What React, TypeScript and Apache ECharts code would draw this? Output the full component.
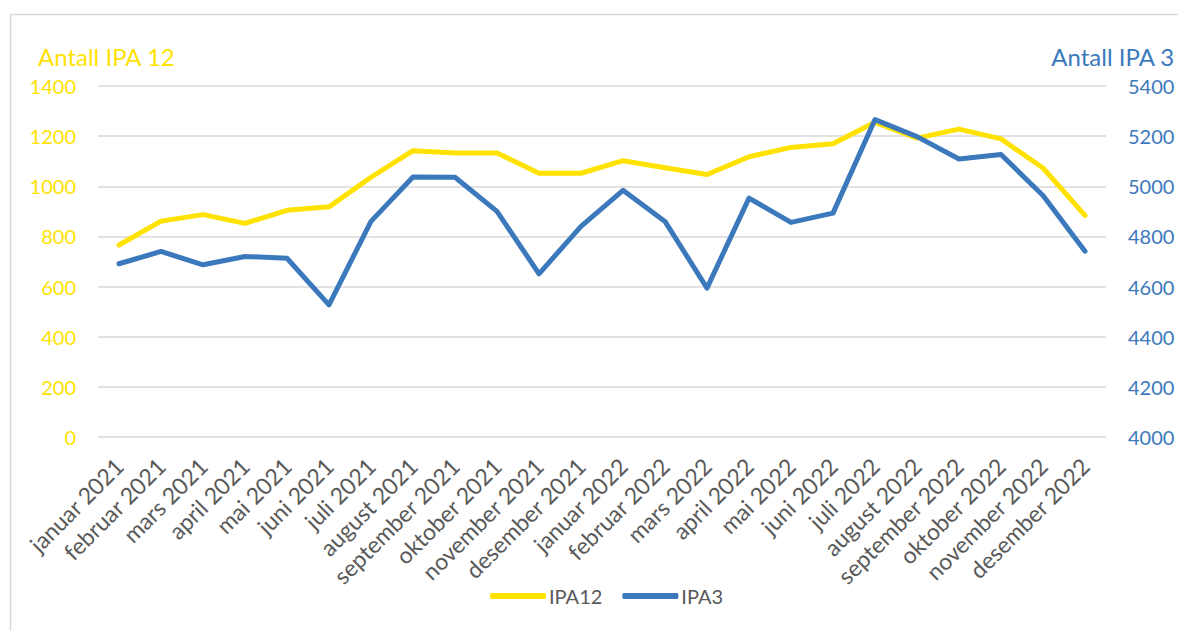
import React, { useEffect, useRef } from "react";
import * as echarts from "echarts";

const months = [
  "januar 2021", "februar 2021", "mars 2021", "april 2021", "mai 2021", "juni 2021",
  "juli 2021", "august 2021", "september 2021", "oktober 2021", "november 2021", "desember 2021",
  "januar 2022", "februar 2022", "mars 2022", "april 2022", "mai 2022", "juni 2022",
  "juli 2022", "august 2022", "september 2022", "oktober 2022", "november 2022", "desember 2022",
];

const ipa12 = [
  766, 861, 887, 852, 904, 918, 1036, 1142, 1133, 1133, 1052, 1052,
  1102, 1074, 1047, 1118, 1155, 1170, 1255, 1192, 1228, 1189, 1073, 884,
];

const ipa3 = [
  4691, 4740, 4687, 4720, 4713, 4527, 4860, 5037, 5036, 4900, 4651, 4840,
  4984, 4860, 4594, 4953, 4856, 4893, 5266, 5198, 5109, 5127, 4963, 4741,
];

const YELLOW = "#FFE200";
const BLUE = "#3B79BC";
const GREY = "#595959";
const FONT = "Lato, 'Open Sans', sans-serif";

export default function App() {
  const ref = useRef<HTMLDivElement>(null);
  useEffect(() => {
    if (!ref.current) return;
    const chart = echarts.init(ref.current, null, { renderer: "svg" });
    chart.setOption({
      animation: false,
      backgroundColor: "#fff",
      textStyle: { fontFamily: FONT },
      grid: { left: 98, right: 72, top: 86, bottom: 194, containLabel: false },
      graphic: [
        {
          type: "rect",
          shape: { x: 10.5, y: 14.5, width: 1300, height: 800 },
          style: { fill: "none", stroke: "#D9D9D9", lineWidth: 1.5 },
          silent: true,
        },
        {
          type: "text",
          left: 38,
          top: 44,
          style: { text: "Antall IPA 12", fill: YELLOW, font: `24px ${FONT}` },
        },
        {
          type: "text",
          right: 3,
          top: 44,
          style: { text: "Antall IPA 3", fill: BLUE, font: `24px ${FONT}` },
        },
      ],
      legend: {
        bottom: 20,
        left: 485,
        itemWidth: 56,
        itemHeight: 6,
        itemGap: 20,
        icon: "roundRect",
        textStyle: { color: GREY, fontSize: 20, fontFamily: FONT, padding: [0, 0, 0, -2] },
        data: ["IPA12", "IPA3"],
      },
      xAxis: {
        type: "category",
        data: months,
        boundaryGap: true,
        axisLine: { show: false },
        axisTick: { show: false },
        axisLabel: { rotate: 45, color: GREY, fontSize: 23, margin: 25, interval: 0, fontFamily: FONT },
      },
      yAxis: [
        {
          type: "value",
          min: 0,
          max: 1400,
          interval: 200,
          position: "left",
          axisLine: { show: false },
          axisTick: { show: false },
          axisLabel: { color: YELLOW, fontSize: 20, margin: 22, fontFamily: FONT, formatter: (v: number) => String(v) },
          splitLine: { lineStyle: { color: "#D9D9D9", width: 1.5 } },
        },
        {
          type: "value",
          min: 4000,
          max: 5400,
          interval: 200,
          position: "right",
          axisLine: { show: false },
          axisTick: { show: false },
          axisLabel: { color: BLUE, fontSize: 20, margin: 22, fontFamily: FONT, formatter: (v: number) => String(v) },
          splitLine: { show: false },
        },
      ],
      series: [
        {
          name: "IPA12",
          type: "line",
          yAxisIndex: 0,
          data: ipa12,
          symbol: "none",
          color: YELLOW,
          lineStyle: { color: YELLOW, width: 5, cap: "round", join: "round" },
        },
        {
          name: "IPA3",
          type: "line",
          yAxisIndex: 1,
          data: ipa3,
          symbol: "none",
          color: BLUE,
          lineStyle: { color: BLUE, width: 5, cap: "round", join: "round" },
        },
      ],
    });
    return () => chart.dispose();
  }, []);
  return (
    <div
      ref={ref}
      style={{ position: "fixed", left: 0, top: 0, width: 1178, height: 631 }}
    />
  );
}
